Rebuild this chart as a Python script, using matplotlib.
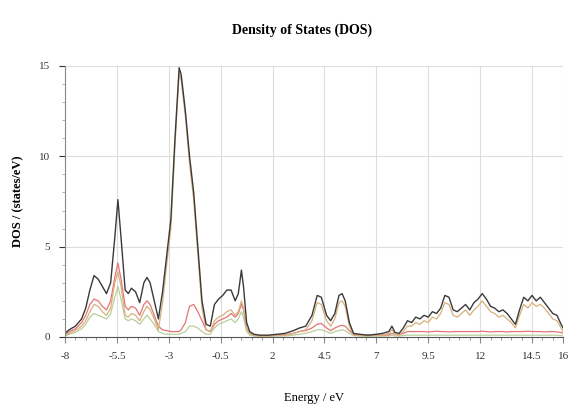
import matplotlib
matplotlib.use("Agg")
import matplotlib.pyplot as plt
from matplotlib.ticker import MultipleLocator, FixedLocator

# energy grid (eV) shared by all curves
energy = [
    -8, -7.8, -7.5, -7.2, -7.0, -6.8, -6.6, -6.4, -6.2, -6.0,
    -5.8, -5.6, -5.45, -5.3, -5.1, -4.95, -4.8, -4.6, -4.4, -4.2,
    -4.05, -3.9, -3.7, -3.5, -3.3, -3.1, -2.9, -2.7, -2.5, -2.4,
    -2.2, -2.0, -1.8, -1.6, -1.4, -1.2, -1.0, -0.8, -0.6, -0.4,
    -0.2, 0.0, 0.2, 0.35, 0.5, 0.6, 0.75, 0.9, 1.1, 1.4,
    1.8, 2.2, 2.6, 3.0, 3.3, 3.6, 3.9, 4.15, 4.35, 4.6,
    4.8, 5.0, 5.2, 5.35, 5.5, 5.7, 5.9, 6.2, 6.6, 7.0,
    7.3, 7.6, 7.75, 7.9, 8.1, 8.3, 8.5, 8.7, 8.9, 9.1,
    9.3, 9.5, 9.7, 9.9, 10.1, 10.3, 10.5, 10.7, 10.9, 11.1,
    11.3, 11.5, 11.7, 11.9, 12.1, 12.3, 12.5, 12.7, 12.9, 13.1,
    13.3, 13.5, 13.7, 13.9, 14.1, 14.3, 14.5, 14.7, 14.9, 15.1,
    15.3, 15.5, 15.7, 15.9, 16.0,
]

dos_total = [
    0.2, 0.4, 0.6, 1.0, 1.6, 2.6, 3.4, 3.2, 2.8, 2.4,
    3.0, 5.5, 7.6, 5.5, 2.6, 2.4, 2.7, 2.5, 1.9, 3.0,
    3.3, 3.0, 2.0, 1.0, 2.5, 4.5, 6.5, 11.0, 14.9, 14.5,
    12.5, 10.0, 8.0, 5.0, 2.0, 0.7, 0.6, 1.8, 2.1, 2.3,
    2.6, 2.6, 2.0, 2.4, 3.7, 2.8, 0.8, 0.3, 0.15, 0.1,
    0.1, 0.15, 0.2, 0.35, 0.5, 0.6, 1.2, 2.3, 2.2, 1.2,
    0.9, 1.3, 2.3, 2.4, 2.0, 0.8, 0.2, 0.15, 0.1, 0.15,
    0.2, 0.3, 0.6, 0.25, 0.2, 0.5, 0.9, 0.8, 1.1, 1.0,
    1.2, 1.1, 1.4, 1.3, 1.6, 2.3, 2.2, 1.5, 1.4, 1.6,
    1.8, 1.5, 1.9, 2.1, 2.4, 2.1, 1.7, 1.6, 1.4, 1.5,
    1.3, 1.0, 0.7, 1.5, 2.2, 2.0, 2.3, 2.0, 2.2, 1.9,
    1.6, 1.3, 1.2, 0.7, 0.5,
]

dos_p = [
    0.1, 0.2, 0.35, 0.6, 0.9, 1.4, 1.8, 1.7, 1.4, 1.2,
    1.6, 3.0, 3.6, 2.8, 1.2, 1.1, 1.3, 1.2, 0.9, 1.4,
    1.7, 1.5, 1.0, 0.4, 1.9, 4.0, 6.0, 10.6, 14.6, 14.2,
    12.2, 9.6, 7.6, 4.6, 1.6, 0.4, 0.3, 0.9, 1.1, 1.2,
    1.4, 1.5, 1.2, 1.4, 2.0, 1.6, 0.5, 0.2, 0.1, 0.05,
    0.05, 0.1, 0.1, 0.2, 0.3, 0.4, 0.9, 1.9, 1.8, 0.9,
    0.6, 1.0, 1.9, 2.0, 1.7, 0.6, 0.1, 0.1, 0.05, 0.1,
    0.1, 0.2, 0.4, 0.15, 0.1, 0.3, 0.6, 0.6, 0.8, 0.7,
    0.9, 0.8, 1.1, 1.0, 1.3, 1.9, 1.8, 1.2, 1.1, 1.3,
    1.5, 1.2, 1.5, 1.7, 2.0, 1.7, 1.4, 1.3, 1.1, 1.2,
    1.0, 0.8, 0.5, 1.2, 1.8, 1.6, 1.9, 1.7, 1.8, 1.6,
    1.3, 1.0, 0.9, 0.5, 0.3,
]

dos_d = [
    0.1, 0.3, 0.45, 0.8, 1.2, 1.8, 2.1, 2.0, 1.7, 1.5,
    2.0, 3.3, 4.1, 3.2, 1.7, 1.5, 1.7, 1.6, 1.2, 1.8,
    2.0, 1.8, 1.2, 0.6, 0.4, 0.35, 0.3, 0.3, 0.3, 0.4,
    0.8, 1.7, 1.8, 1.4, 0.9, 0.4, 0.3, 0.7, 0.9, 1.0,
    1.1, 1.3, 1.1, 1.3, 1.8, 1.5, 0.5, 0.2, 0.1, 0.08,
    0.08, 0.1, 0.12, 0.2, 0.3, 0.35, 0.5, 0.7, 0.75, 0.5,
    0.35, 0.5, 0.6, 0.65, 0.6, 0.35, 0.15, 0.1, 0.1, 0.1,
    0.1, 0.12, 0.2, 0.15, 0.12, 0.2, 0.3, 0.3, 0.3, 0.3,
    0.3, 0.28, 0.3, 0.32, 0.3, 0.3, 0.28, 0.3, 0.3, 0.3,
    0.3, 0.3, 0.3, 0.3, 0.32, 0.3, 0.28, 0.3, 0.3, 0.3,
    0.28, 0.3, 0.3, 0.3, 0.3, 0.32, 0.3, 0.3, 0.3, 0.28,
    0.3, 0.3, 0.28, 0.25, 0.2,
]

dos_s = [
    0.05, 0.15, 0.25, 0.45, 0.7, 1.1, 1.3, 1.2, 1.1, 1.0,
    1.3, 2.2, 2.8, 2.1, 1.0, 0.9, 1.0, 0.9, 0.7, 1.0,
    1.2, 1.0, 0.7, 0.3, 0.2, 0.15, 0.15, 0.15, 0.15, 0.2,
    0.3, 0.6, 0.6, 0.5, 0.3, 0.15, 0.15, 0.5, 0.7, 0.8,
    0.9, 1.0, 0.8, 1.0, 1.4, 1.1, 0.3, 0.1, 0.05, 0.05,
    0.05, 0.05, 0.06, 0.1, 0.15, 0.2, 0.3, 0.4, 0.4, 0.3,
    0.2, 0.3, 0.35, 0.4, 0.35, 0.2, 0.08, 0.05, 0.05, 0.05,
    0.05, 0.06, 0.1, 0.06, 0.05, 0.08, 0.1, 0.1, 0.1, 0.1,
    0.1, 0.1, 0.1, 0.1, 0.1, 0.1, 0.1, 0.1, 0.1, 0.1,
    0.1, 0.1, 0.1, 0.1, 0.1, 0.1, 0.1, 0.1, 0.1, 0.1,
    0.1, 0.1, 0.1, 0.1, 0.1, 0.1, 0.1, 0.1, 0.1, 0.1,
    0.1, 0.1, 0.1, 0.08, 0.06,
]

x_ticks = [-8, -5.5, -3, -0.5, 2, 4.5, 7, 9.5, 12, 14.5, 16]
x_labels = ["-8", "-5.5", "-3", "-0.5", "2", "4.5", "7", "9.5", "12", "14.5", "16"]
y_ticks = [0, 5, 10, 15]

plt.rcParams["font.family"] = ["Liberation Serif", "DejaVu Serif"]

fig = plt.figure(figsize=(5.70, 4.07), dpi=100)
ax = fig.add_axes([0.114, 0.172, 0.874, 0.666])

ax.plot(energy, dos_s, color="#b9cf9a", lw=0.9)
ax.plot(energy, dos_d, color="#e57373", lw=0.9)
ax.plot(energy, dos_p, color="#d7b07c", lw=0.9)
ax.plot(energy, dos_total, color="#3a3a3a", lw=1.0)

ax.set_xlim(-8, 16)
ax.set_ylim(0, 15)
ax.xaxis.set_major_locator(FixedLocator(x_ticks))
ax.set_xticklabels(x_labels)
ax.xaxis.set_minor_locator(MultipleLocator(0.5))
ax.yaxis.set_major_locator(FixedLocator(y_ticks))
ax.yaxis.set_minor_locator(MultipleLocator(1))
ax.grid(True, which="major", color="#dddddd", lw=0.8)
ax.set_axisbelow(True)

for side in ("top", "right"):
    ax.spines[side].set_visible(False)
ax.spines["left"].set_color("#888888")
ax.spines["bottom"].set_color("#555555")
ax.tick_params(which="major", length=4, labelsize=8, colors="#333333", pad=7)
ax.tick_params(which="minor", length=2, color="#aaaaaa")
ax.tick_params(axis="x", which="both", color="#888888")

ax.set_xlabel("Energy / eV", fontsize=9, labelpad=22)
ax.set_ylabel("DOS / (states/eV)", fontsize=9, fontweight="bold", labelpad=10)
fig.text(0.53, 0.925, "Density of States (DOS)", ha="center", va="center",
         fontsize=10, fontweight="bold")

fig.savefig("out.png", dpi=100)
